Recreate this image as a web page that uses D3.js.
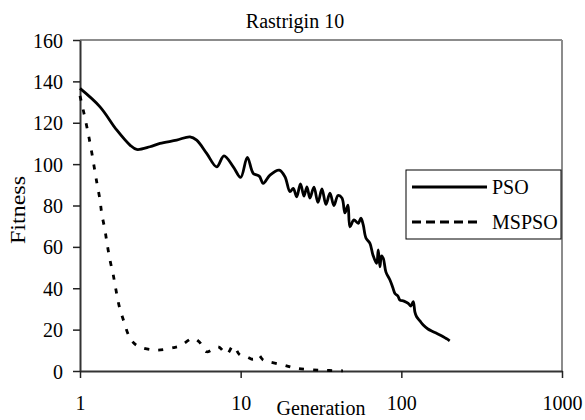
<!DOCTYPE html>
<html>
<head>
<meta charset="utf-8">
<script src="https://cdn.jsdelivr.net/npm/d3@7"></script>
<style>
  html, body { margin: 0; padding: 0; background: #fff; }
  svg { display: block; }
  text { font-family: "Liberation Serif", "Times New Roman", serif; fill: #000; }
</style>
</head>
<body>
<svg id="chart" width="585" height="420"></svg>
<script>
// ---- data ----
const title = "Rastrigin 10";
const xLabel = "Generation";
const yLabel = "Fitness";
const xTicks = [1, 10, 100, 1000];
const yTicks = [0, 20, 40, 60, 80, 100, 120, 140, 160];
const seriesNames = ["PSO", "MSPSO"];

const psoGen = [1.00, 1.332, 1.692, 2.047, 2.254, 2.727, 3.147, 3.997, 4.836, 5.323, 6.143, 7.090, 7.873, 8.995, 10.0, 11.0, 11.98, 13.05, 13.82, 15.22, 17.39, 18.87, 20.27, 21.25, 22.31, 23.56, 24.77, 25.85, 26.99, 28.58, 30.27, 32.05, 33.95, 35.95, 38.07, 40.32, 42.70, 44.57, 46.53, 47.87, 50.7, 53.92, 56.06, 57.93, 60.21, 63.77, 66.57, 70.20, 71.83, 73.61, 75.2, 77.17, 80.22, 84.96, 88.68, 91.24, 95.26, 98.0, 103.8, 110.4, 114.7, 118.6, 121.5, 124.5, 130.5, 136.9, 146.4, 157.9, 169.0, 182.3, 192.2, 200];
const psoFit = [136.6, 127.7, 116.5, 109.2, 107.1, 108.4, 110.0, 111.6, 113.2, 111.6, 105.2, 98.7, 104.0, 98.7, 93.6, 103.3, 95.5, 94.2, 90.7, 94.7, 97.1, 93.9, 86.7, 88.3, 84.2, 90.5, 84.6, 89.0, 83.6, 88.9, 81.5, 88.0, 80.5, 86.0, 80.0, 84.8, 83.6, 76.4, 80.2, 69.7, 73.0, 71.4, 73.9, 70.6, 64.3, 61.7, 56.1, 52.0, 58.5, 50.4, 55.6, 54.5, 47.8, 44.0, 40.1, 37.5, 36.2, 34.3, 33.8, 32.7, 31.4, 33.5, 28.5, 26.2, 24.2, 22.2, 20.3, 19.0, 17.9, 16.6, 15.5, 14.6];

const mspsoGen = [1.00, 1.09, 1.166, 1.27, 1.332, 1.365, 1.43, 1.479, 1.537, 1.611, 1.675, 1.757, 1.878, 2.026, 2.2, 2.42, 3.0, 3.81, 4.19, 5.07, 5.58, 6.14, 7.25, 8.18, 8.99, 9.9, 10.9, 12.0, 12.9, 13.8, 14.9, 18.4, 22.3, 31.2, 43.3];
const mspsoFit = [133, 120, 108.4, 91.5, 82.6, 76.2, 68.1, 60.9, 53.6, 46.4, 39.1, 31.1, 23.8, 16.6, 13.0, 11.3, 10.1, 11.3, 12.1, 15.8, 13.7, 9.3, 11.7, 8.2, 12.1, 7.7, 6.9, 5.7, 7.7, 5.3, 4.5, 2.9, 1.3, 0.4, 0.1];

// ---- chart ----
const FONT = "'Liberation Serif','Times New Roman',serif";
const svg = d3.select("#chart");
const x = d3.scaleLog().domain([1, 1000]).range([80, 562]);
const y = d3.scaleLinear().domain([0, 160]).range([371, 40]);

// plot border top & right (grey)
svg.append("line").attr("x1", 80).attr("x2", 562).attr("y1", 40).attr("y2", 40)
  .attr("stroke", "#8c8c8c").attr("stroke-width", 2);
svg.append("line").attr("x1", 562).attr("x2", 562).attr("y1", 40).attr("y2", 371)
  .attr("stroke", "#8c8c8c").attr("stroke-width", 2);

// y axis
const yAxis = svg.append("g").attr("transform", "translate(80,0)")
  .call(d3.axisLeft(y).tickValues(yTicks).tickSize(7).tickSizeOuter(0));
yAxis.attr("font-family", FONT).attr("font-size", 20);
yAxis.select(".domain").attr("stroke", "#333").attr("stroke-width", 2);
yAxis.selectAll(".tick line").attr("stroke", "#222").attr("stroke-width", 1.5);
yAxis.selectAll(".tick text")
  .attr("x", -17).attr("dy", 7)
  .style("font-size", "20px").style("font-family", FONT)
  .attr("fill", "#000");

// x axis
const xAxis = svg.append("g").attr("transform", "translate(0,371)")
  .call(d3.axisBottom(x).tickValues(xTicks).tickFormat(d3.format("d")).tickSize(7).tickSizeOuter(0));
xAxis.attr("font-family", FONT).attr("font-size", 20);
xAxis.select(".domain").attr("stroke", "#333").attr("stroke-width", 2);
xAxis.selectAll(".tick line").attr("stroke", "#222").attr("stroke-width", 1.5);
xAxis.selectAll(".tick text")
  .attr("y", 39).attr("dy", 0)
  .style("font-size", "20px").style("font-family", FONT)
  .attr("fill", "#000");

// series
const line = d3.line().x(d => x(d[0])).y(d => y(d[1])).curve(d3.curveCatmullRom.alpha(0.5));
const psoData = psoGen.map((g, i) => [g, psoFit[i]]);
const mspsoData = mspsoGen.map((g, i) => [g, mspsoFit[i]]);

svg.append("path").datum(mspsoData).attr("d", line)
  .attr("fill", "none").attr("stroke", "#000").attr("stroke-width", 2.8)
  .attr("stroke-dasharray", "5,9");
svg.append("path").datum(psoData).attr("d", line)
  .attr("fill", "none").attr("stroke", "#000").attr("stroke-width", 2.8)
  .attr("stroke-linejoin", "round");

// title
svg.append("text").attr("x", 295).attr("y", 28).attr("text-anchor", "middle")
  .style("font-size", "20px").style("font-family", FONT).text(title);

// axis labels
svg.append("text").attr("x", 321).attr("y", 415).attr("text-anchor", "middle")
  .style("font-size", "20px").style("font-family", FONT).text(xLabel);
svg.append("text").attr("transform", "translate(25,210) rotate(-90)")
  .attr("text-anchor", "middle").style("font-size", "20px").style("font-family", FONT)
  .attr("textLength", 68).attr("lengthAdjust", "spacingAndGlyphs").text(yLabel);

// legend
const lg = svg.append("g");
lg.append("rect").attr("x", 406).attr("y", 170).attr("width", 155).attr("height", 69)
  .attr("fill", "#fff").attr("stroke", "#000").attr("stroke-width", 1);
const legendRows = [
  { name: seriesNames[0], dash: null, x2: 487, y: 187 },
  { name: seriesNames[1], dash: "9,5", x2: 478, y: 222 }
];
legendRows.forEach(r => {
  lg.append("line").attr("x1", 412).attr("x2", r.x2).attr("y1", r.y).attr("y2", r.y)
    .attr("stroke", "#000").attr("stroke-width", 2.8)
    .attr("stroke-dasharray", r.dash);
  lg.append("text").attr("x", 492).attr("y", r.y + 7)
    .style("font-size", "20px").style("font-family", FONT).text(r.name);
});
</script>
</body>
</html>
